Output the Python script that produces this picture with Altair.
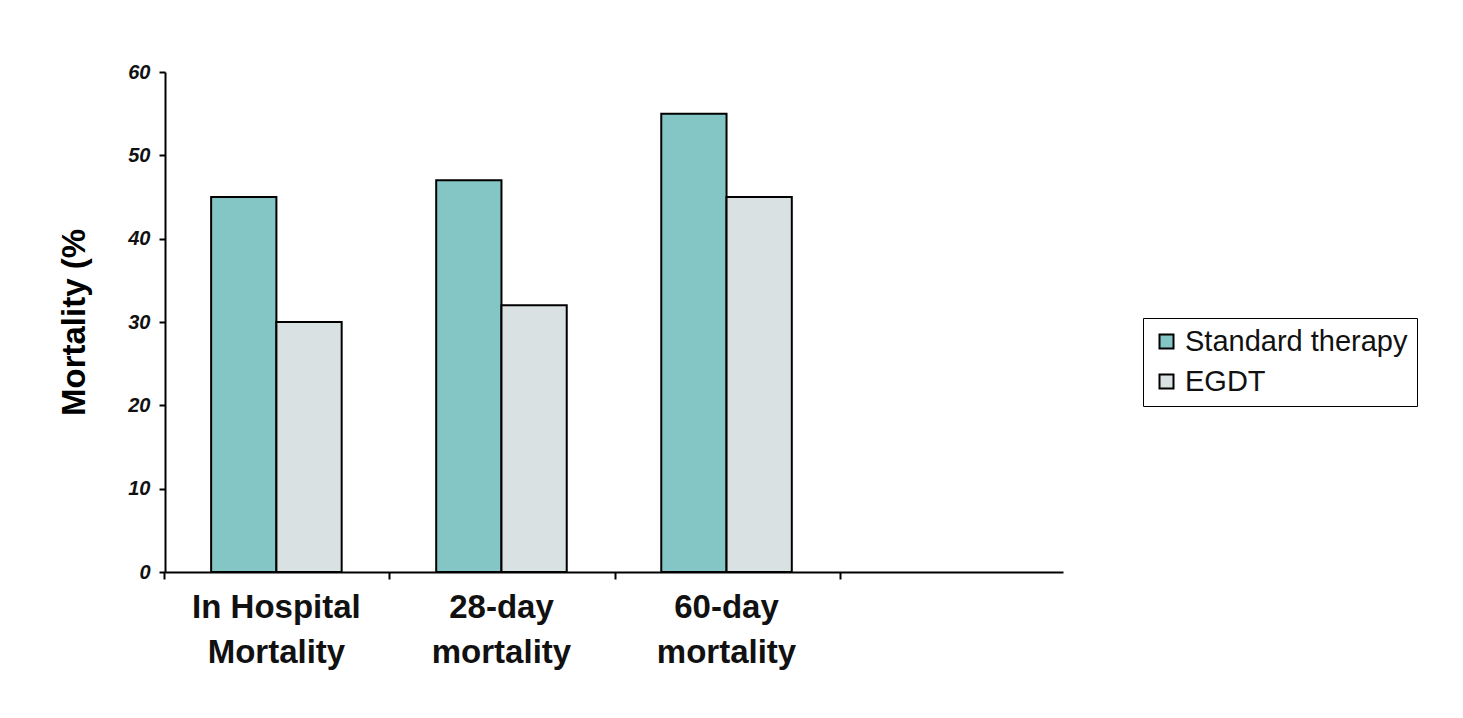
import altair as alt
import pandas as pd

categories = ["In Hospital|Mortality", "28-day|mortality", "60-day|mortality", " "]
series = ["Standard therapy", "EGDT"]
standard = [45, 47, 55]
egdt = [30, 32, 45]
y_ticks = [0, 10, 20, 30, 40, 50, 60]
colors = ["#84c6c6", "#d9e1e3"]

rows = []
for c, s, e in zip(categories[:3], standard, egdt):
    rows.append({"cat": c, "series": series[0], "value": s})
    rows.append({"cat": c, "series": series[1], "value": e})
df = pd.DataFrame(rows)

font = "Liberation Sans"

xscale = alt.Scale(domain=categories, paddingInner=0.42, paddingOuter=0.205)
yscale = alt.Scale(domain=[0, 60], nice=False)
cscale = alt.Scale(domain=series, range=colors)

y_enc = alt.Y("value:Q", scale=yscale, title="Mortality (%",
              axis=alt.Axis(values=y_ticks, grid=False, labelFont=font, labelFontSize=20,
                            labelFontWeight="bold", labelFontStyle="italic", labelColor="#111",
                            labelPadding=9, tickColor="black", tickWidth=2, tickSize=6,
                            domainColor="black", domainWidth=2,
                            titleFont=font, titleFontSize=33, titleFontWeight="bold",
                            titleColor="black", titlePadding=36))
xoff = alt.XOffset("series:N", sort=series, scale=alt.Scale(domain=series, paddingInner=0))

bars = alt.Chart(df).mark_bar(stroke="black", strokeWidth=2).encode(
    x=alt.X("cat:N", scale=xscale, sort=categories, title=None,
            axis=alt.Axis(orient="bottom", labelExpr="split(datum.label, '|')", labelAngle=0,
                          labelFont=font, labelFontSize=33, labelFontWeight="bold",
                          labelColor="#111", labelLineHeight=45, labelPadding=19,
                          ticks=False, domain=True, domainColor="black", domainWidth=2,
                          labelBaseline="top")),
    xOffset=xoff,
    y=y_enc,
    fill=alt.Fill("series:N", scale=cscale, sort=series,
                  legend=alt.Legend(title=None, orient="none", legendX=978, legendY=246,
                                    strokeColor="black", padding=9, symbolType="square",
                                    symbolSize=196, symbolStrokeColor="black",
                                    symbolStrokeWidth=2, labelFont=font, labelFontSize=29,
                                    labelColor="#111", rowPadding=10, labelLimit=400,
                                    symbolOpacity=1)),
)

ticks = alt.Chart(df).mark_bar(opacity=0).encode(
    x=alt.X("cat:N", scale=xscale, sort=categories, title=None,
            axis=alt.Axis(orient="bottom", labels=False, ticks=True, bandPosition=-0.354,
                          domain=False, tickColor="black", tickWidth=2, tickSize=7)),
    xOffset=xoff,
    y=y_enc,
)

chart = alt.layer(bars, ticks).resolve_axis(x="independent").properties(
    width=898, height=500,
    autosize=alt.AutoSizeParams(type="none"),
    padding={"left": 157, "top": 64, "right": 392, "bottom": 138},
    background="white",
).configure_view(stroke=None)

chart.save("out.html", embed_options={"renderer": "svg", "actions": False})
